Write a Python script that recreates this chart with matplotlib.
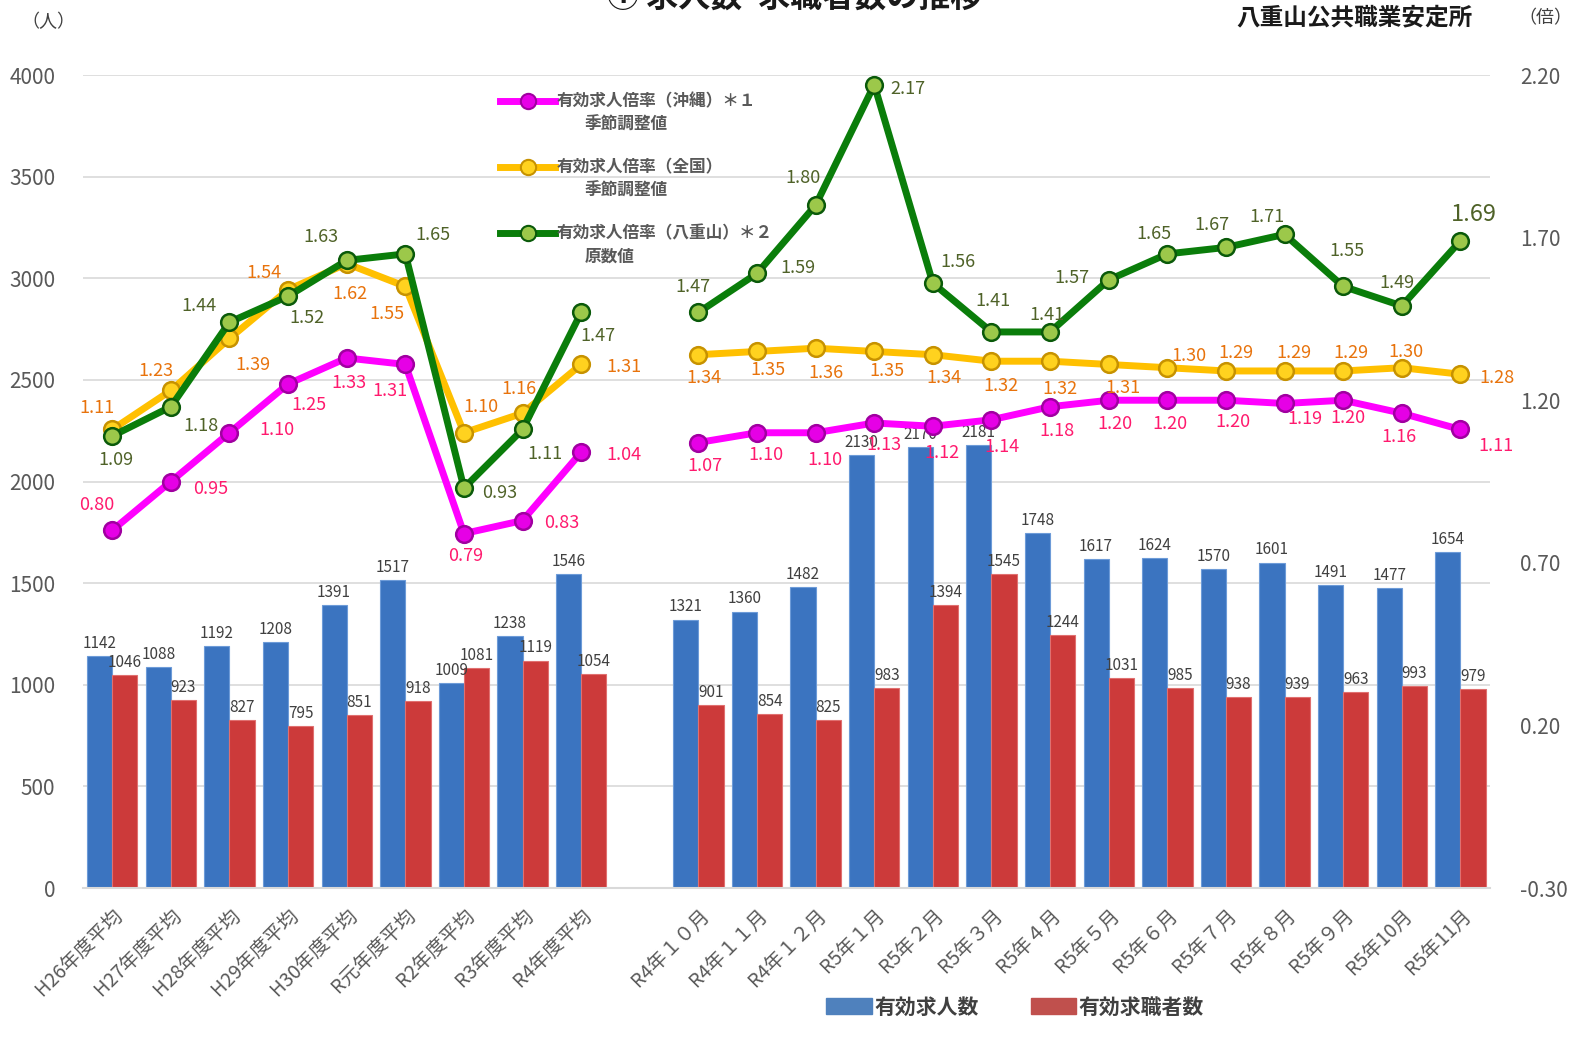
import numpy as np
import matplotlib
matplotlib.use("Agg")
from matplotlib import pyplot as plt
from matplotlib.lines import Line2D
from matplotlib.patches import Patch

plt.rcParams['font.family'] = ['Noto Sans CJK JP', 'DejaVu Sans']

# カテゴリ(年度平均 + 月次)
cat_year = ["H26年度平均", "H27年度平均", "H28年度平均", "H29年度平均", "H30年度平均",
            "R元年度平均", "R2年度平均", "R3年度平均", "R4年度平均"]
cat_month = ["R4年１０月", "R4年１１月", "R4年１２月", "R5年１月", "R5年２月", "R5年３月",
             "R5年４月", "R5年５月", "R5年６月", "R5年７月", "R5年８月", "R5年９月",
             "R5年10月", "R5年11月"]

# 有効求人数 / 有効求職者数
kyujin_year = [1142, 1088, 1192, 1208, 1391, 1517, 1009, 1238, 1546]
kyujin_month = [1321, 1360, 1482, 2130, 2170, 2181, 1748, 1617, 1624, 1570, 1601, 1491, 1477, 1654]
kyushoku_year = [1046, 923, 827, 795, 851, 918, 1081, 1119, 1054]
kyushoku_month = [901, 854, 825, 983, 1394, 1545, 1244, 1031, 985, 938, 939, 963, 993, 979]

# 有効求人倍率
okinawa_year = [0.80, 0.95, 1.10, 1.25, 1.33, 1.31, 0.79, 0.83, 1.04]
okinawa_month = [1.07, 1.10, 1.10, 1.13, 1.12, 1.14, 1.18, 1.20, 1.20, 1.20, 1.19, 1.20, 1.16, 1.11]
zenkoku_year = [1.11, 1.23, 1.39, 1.54, 1.62, 1.55, 1.10, 1.16, 1.31]
zenkoku_month = [1.34, 1.35, 1.36, 1.35, 1.34, 1.32, 1.32, 1.31, 1.30, 1.29, 1.29, 1.29, 1.30, 1.28]
yaeyama_year = [1.09, 1.18, 1.44, 1.52, 1.63, 1.65, 0.93, 1.11, 1.47]
yaeyama_month = [1.47, 1.59, 1.80, 2.17, 1.56, 1.41, 1.41, 1.57, 1.65, 1.67, 1.71, 1.55, 1.49, 1.69]

# ラベル位置のずらし(ピクセル)
off_okinawa = [(-15, 25), (40, -7), (47, 3), (21, -21), (2, -25), (-15, -27), (2, -22), (39, -2), (43, -3),
               (7, -23), (9, -22), (9, -27), (10, -22), (9, -27), (10, -27), (7, -24), (6, -24), (3, -24),
               (7, -22), (20, -16), (5, -18), (-3, -24), (36, -17)]
off_zenkoku = [(-15, 21), (-15, 19), (23, -27), (-24, 17), (3, -30), (-18, -28), (17, 26), (-4, 24), (43, -3),
               (6, -23), (11, -19), (10, -25), (13, -20), (11, -23), (9, -25), (10, -28), (14, -24), (22, 12),
               (10, 18), (9, 18), (8, 18), (4, 16), (37, -4)]
off_yaeyama = [(4, -24), (30, -19), (-31, 16), (19, -22), (-26, 23), (28, 19), (36, -5), (22, -25), (17, -24),
               (-5, 25), (41, 5), (-13, 27), (34, -4), (25, 21), (1, 31), (-3, 17), (-37, 2), (-13, 20),
               (-14, 22), (-18, 17), (4, 35), (-5, 23), (13, 26)]

x_year = np.arange(len(cat_year))
x_month = np.arange(len(cat_month)) + len(cat_year) + 1
x_all = np.concatenate([x_year, x_month])
labels_all = cat_year + cat_month

fig = plt.figure(figsize=(15.95, 10.38), dpi=100)
ax = fig.add_axes([0.052, 0.1445, 0.882, 0.7832])

w = 0.43
blue = '#3B74C0'
red = '#CC3A3A'
b1 = ax.bar(x_all - w / 2, kyujin_year + kyujin_month, w, color=blue, edgecolor='#6D9BD8', linewidth=0.8, zorder=2)
b2 = ax.bar(x_all + w / 2, kyushoku_year + kyushoku_month, w, color=red, edgecolor='#E07070', linewidth=0.8, zorder=2)
ax.bar_label(b1, padding=3, fontsize=11, color='#404040')
ax.bar_label(b2, padding=3, fontsize=11, color='#404040')

ax.set_xlim(-0.5, 23.5)
ax.set_ylim(0, 4000)
ax.set_yticks(range(0, 4001, 500))
ax.grid(axis='y', color='#D9D9D9', linewidth=1.2, zorder=0)
ax.set_axisbelow(True)
for s in ['top', 'left', 'right']:
    ax.spines[s].set_visible(False)
ax.spines['bottom'].set_color('#D9D9D9')
ax.spines['bottom'].set_linewidth(1.5)
ax.tick_params(axis='y', length=0, labelsize=15, labelcolor='#595959', pad=20)
ax.set_xticks(x_all)
ax.set_xticklabels(labels_all, rotation=45, ha='right', rotation_mode='anchor',
                   fontsize=14, color='#595959')
ax.tick_params(axis='x', length=0, pad=12)

ax2 = ax.twinx()
ax2.set_ylim(-0.30, 2.20)
ax2.set_yticks(np.arange(-0.30, 2.21, 0.5))
ax2.set_yticklabels([f"{v:.2f}" for v in np.arange(-0.30, 2.21, 0.5)])
ax2.tick_params(axis='y', length=0, labelsize=15, labelcolor='#595959', pad=22)
for s in ['top', 'left', 'right', 'bottom']:
    ax2.spines[s].set_visible(False)

series = [
    (okinawa_year, okinawa_month, '#FF00FF', '#E600E6', '#A000A0', '#FF1A6E', off_okinawa),
    (zenkoku_year, zenkoku_month, '#FFC000', '#FFD21F', '#C79200', '#E8730C', off_zenkoku),
    (yaeyama_year, yaeyama_month, '#0A7D0A', '#9CC84A', '#0A5A0A', '#4F6228', off_yaeyama),
]
for yv, mv, lc, mf, me, tc, offs in series:
    for xs, ys in [(x_year, yv), (x_month, mv)]:
        ax2.plot(xs, ys, color=lc, linewidth=5, marker='o', markersize=12,
                 markerfacecolor=mf, markeredgecolor=me, markeredgewidth=1.8, zorder=3)
    vals = yv + mv
    for i, (xx, vv) in enumerate(zip(x_all, vals)):
        fs = 17 if (lc == '#0A7D0A' and i == len(vals) - 1) else 13
        ax2.annotate(f"{vv:.2f}", (xx, vv), xytext=offs[i], textcoords='offset pixels',
                     ha='center', va='center', fontsize=fs, color=tc, zorder=4)

# 折れ線の凡例(手描き)
leg_items = [
    ('#FF00FF', '#E600E6', '#A000A0', "有効求人倍率（沖縄）＊１", "季節調整値"),
    ('#FFC000', '#FFD21F', '#C79200', "有効求人倍率（全国）", "季節調整値"),
    ('#0A7D0A', '#9CC84A', '#0A5A0A', "有効求人倍率（八重山）＊２", "原数値"),
]
for k, (lc, mf, me, t1, t2) in enumerate(leg_items):
    yy = 1 - (101 + 66 * k) / 1038
    fig.add_artist(Line2D([500 / 1595, 555 / 1595], [yy, yy], color=lc, linewidth=5,
                          transform=fig.transFigure))
    fig.add_artist(Line2D([528 / 1595], [yy], marker='o', markersize=11, markerfacecolor=mf,
                          markeredgecolor=me, markeredgewidth=1.5, transform=fig.transFigure))
    fig.text(557 / 1595, yy, t1, fontsize=12, fontweight='bold', color='#595959', va='center')
    fig.text(585 / 1595, yy - 24 / 1038, t2, fontsize=12, fontweight='bold', color='#595959', va='center')

fig.legend(handles=[Patch(color='#4F81BD', label='有効求人数'), Patch(color='#C0504D', label='有効求職者数')],
           loc='center', bbox_to_anchor=(1015 / 1595, 1 - 1007 / 1038), ncol=2, frameon=False,
           handlelength=2.2, handleheight=0.8, handletextpad=0.1, columnspacing=2.5,
           prop={'size': 15, 'weight': 'bold'}, labelcolor='#404040')

fig.text(795 / 1595, 1 - 14 / 1038, "① 求人数･求職者数の推移", ha='center', va='bottom',
         fontsize=23, fontweight='bold', color='#1a1a1a')
fig.text(1354 / 1595, 1 - 17 / 1038, "八重山公共職業安定所", ha='center', va='center',
         fontsize=17, fontweight='bold', color='#1a1a1a')
fig.text(48 / 1595, 1 - 22 / 1038, "（人）", ha='center', va='center', fontsize=13, color='#404040')
fig.text(1545 / 1595, 1 - 18 / 1038, "（倍）", ha='center', va='center', fontsize=13, color='#404040')

fig.savefig("out.png", dpi=100)
